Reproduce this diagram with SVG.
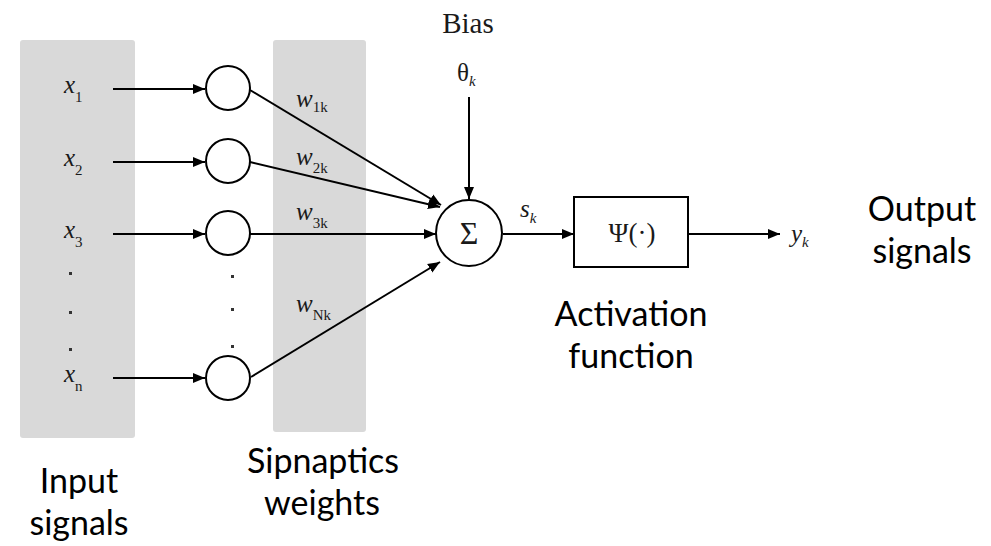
<svg xmlns="http://www.w3.org/2000/svg" width="991" height="546" viewBox="0 0 991 546">
  <style>
    .panel { fill: #d9d9d9; }
    .wire { stroke: #000; stroke-width: 2; fill: none; }
    .node { stroke: #000; stroke-width: 2; fill: #fff; }
    .math { font-family: "Liberation Serif", "DejaVu Serif", serif; fill: #1a1a1a; }
    .sym { font-size: 25px; font-style: italic; }
    .sub { font-size: 15px; }
    .label { font-family: Lato, "Open Sans", "Liberation Sans", sans-serif; font-size: 34px; fill: #000; text-anchor: middle; }
    .dot { fill: #333; }
  </style>
  <defs>
    <marker id="arrow" viewBox="0 0 12 12" refX="12" refY="6" markerWidth="12" markerHeight="12" markerUnits="userSpaceOnUse" orient="auto">
      <path d="M0,1 L12,6 L0,11 Z" fill="#000"/>
    </marker>
  </defs>

  <!-- shaded columns -->
  <rect class="panel" x="20" y="40" width="115" height="398" rx="3"/>
  <rect class="panel" x="273" y="40" width="93" height="392" rx="3"/>

  <!-- connectors -->
  <g id="connectors">
    <line class="wire" x1="113" y1="89" x2="205" y2="89" marker-end="url(#arrow)"/>
    <line class="wire" x1="113" y1="162" x2="205" y2="162" marker-end="url(#arrow)"/>
    <line class="wire" x1="113" y1="234" x2="205" y2="234" marker-end="url(#arrow)"/>
    <line class="wire" x1="113" y1="378" x2="205" y2="378" marker-end="url(#arrow)"/>
    <line class="wire" x1="250" y1="90" x2="441" y2="205" marker-end="url(#arrow)"/>
    <line class="wire" x1="250" y1="162" x2="440" y2="207" marker-end="url(#arrow)"/>
    <line class="wire" x1="250" y1="234" x2="436" y2="234" marker-end="url(#arrow)"/>
    <line class="wire" x1="251" y1="377" x2="440" y2="262" marker-end="url(#arrow)"/>
    <line class="wire" x1="469" y1="97" x2="469" y2="199" marker-end="url(#arrow)"/>
    <line class="wire" x1="503" y1="234" x2="574" y2="234" marker-end="url(#arrow)"/>
    <line class="wire" x1="688" y1="234" x2="780" y2="234" marker-end="url(#arrow)"/>
  </g>

  <!-- input signals -->
  <g id="inputs">
    <text class="math" x="64" y="93"><tspan class="sym">x</tspan><tspan class="sub" dy="9">1</tspan></text>
    <text class="math" x="64" y="166"><tspan class="sym">x</tspan><tspan class="sub" dy="9">2</tspan></text>
    <text class="math" x="64" y="238"><tspan class="sym">x</tspan><tspan class="sub" dy="9">3</tspan></text>
    <text class="math" x="64" y="382"><tspan class="sym">x</tspan><tspan class="sub" dy="9">n</tspan></text>
    <rect class="dot" x="69" y="272" width="3" height="3"/>
    <rect class="dot" x="69" y="311" width="3" height="3"/>
    <rect class="dot" x="69" y="348" width="3" height="3"/>
  </g>

  <!-- input nodes -->
  <g id="node-1"><circle class="node" cx="228" cy="88" r="22"/></g>
  <g id="node-2"><circle class="node" cx="228" cy="161" r="22"/></g>
  <g id="node-3"><circle class="node" cx="228" cy="233" r="22"/></g>
  <g id="node-n"><circle class="node" cx="228" cy="378" r="22"/></g>
  <g id="node-dots">
    <rect class="dot" x="231" y="275" width="3" height="3"/>
    <rect class="dot" x="231" y="308" width="3" height="3"/>
    <rect class="dot" x="231" y="345" width="3" height="3"/>
  </g>

  <!-- weights -->
  <g id="weights">
    <text class="math" x="296" y="107"><tspan class="sym">w</tspan><tspan class="sub" dy="5">1k</tspan></text>
    <text class="math" x="296" y="165"><tspan class="sym">w</tspan><tspan class="sub" dy="8">2k</tspan></text>
    <text class="math" x="296" y="220"><tspan class="sym">w</tspan><tspan class="sub" dy="8">3k</tspan></text>
    <text class="math" x="296" y="312"><tspan class="sym">w</tspan><tspan class="sub" dy="8">Nk</tspan></text>
  </g>

  <!-- bias -->
  <g id="bias">
    <text class="math" x="468" y="33" font-size="29" text-anchor="middle">Bias</text>
    <text class="math" x="457" y="81" font-size="25">θ<tspan class="sub" font-style="italic" dy="5">k</tspan></text>
  </g>

  <!-- summing junction -->
  <g id="sum">
    <circle class="node" cx="469" cy="233" r="33"/>
    <text class="math" x="469" y="244" font-size="32" text-anchor="middle">Σ</text>
    <text class="math" x="520" y="217"><tspan class="sym">s</tspan><tspan class="sub" font-style="italic" dy="6">k</tspan></text>
  </g>

  <!-- activation function -->
  <g id="activation">
    <rect class="node" x="574" y="197" width="114" height="70"/>
    <text class="math" x="632" y="242" font-size="27" text-anchor="middle" fill="#555">Ψ(·)</text>
  </g>

  <!-- output -->
  <g id="output">
    <text class="math" x="791" y="242"><tspan class="sym">y</tspan><tspan class="sub" font-style="italic" dy="5">k</tspan></text>
  </g>

  <!-- captions -->
  <g id="captions">
    <text class="label"><tspan x="922" y="221">Output</tspan><tspan x="922" y="263">signals</tspan></text>
    <text class="label"><tspan x="631" y="326">Activation</tspan><tspan x="631" y="368">function</tspan></text>
    <text class="label"><tspan x="79" y="493">Input</tspan><tspan x="79" y="535">signals</tspan></text>
    <text class="label"><tspan x="323" y="473">Sipnaptics</tspan><tspan x="322" y="515">weights</tspan></text>
  </g>
</svg>
